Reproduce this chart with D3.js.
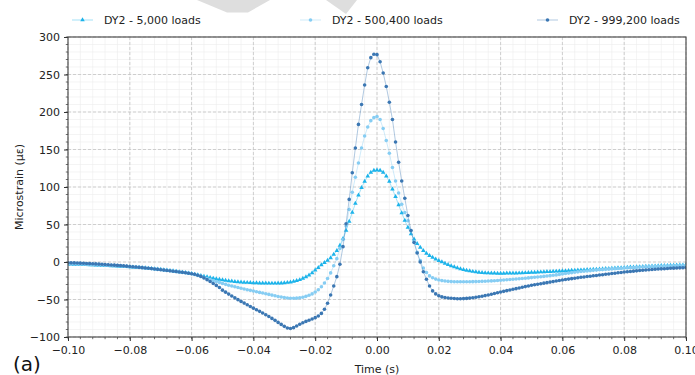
<!DOCTYPE html>
<html>
<head>
<meta charset="utf-8">
<script src="https://cdn.jsdelivr.net/npm/d3@7"></script>
<style>
  html, body { margin: 0; padding: 0; background: #fff; }
  svg { display: block; font-family: "DejaVu Sans", sans-serif; }
</style>
</head>
<body>
<svg id="chart" width="695" height="375"></svg>
<script>
// Strain gauge DY2 response to a passing load, sampled every 1 ms from -100 ms to +100 ms.
const sampleStartMs = -100;
const sampleStepMs = 1;

const seriesLabels = ["DY2 - 5,000 loads", "DY2 - 500,400 loads", "DY2 - 999,200 loads"];
const seriesColors = ["#1cb3ea", "#86cdf3", "#3b77b3"];

const strain5000 = [
  -3.0,-3.0,-3.1,-3.2,-3.3,-3.5,-3.6,-3.8,-3.9,-4.1,
  -4.3,-4.5,-4.7,-4.9,-5.1,-5.3,-5.5,-5.8,-6.0,-6.2,
  -6.5,-6.8,-7.1,-7.4,-7.7,-8.0,-8.4,-8.8,-9.2,-9.6,
  -10.0,-10.5,-11.0,-11.5,-12.0,-12.5,-13.1,-13.7,-14.3,-14.9,
  -15.5,-16.4,-17.3,-18.2,-19.1,-20.0,-20.9,-21.7,-22.5,-23.3,
  -24.0,-24.6,-25.1,-25.6,-26.1,-26.5,-26.8,-27.1,-27.4,-27.6,
  -27.8,-28.0,-28.1,-28.2,-28.3,-28.4,-28.4,-28.4,-28.3,-28.1,
  -27.8,-27.4,-26.8,-26.0,-25.0,-23.7,-22.0,-20.0,-17.5,-14.5,
  -11.0,-7.5,-4.0,-1.0,2.0,5.5,10.0,15.0,22.0,31.0,
  42.0,54.0,66.0,78.0,89.0,99.0,107.5,114.5,119.5,122.0,
  122.5,
  122.0,119.5,114.5,107.5,97.0,87.0,76.0,65.5,55.5,46.0,
  37.5,30.5,24.5,19.5,15.0,11.5,8.5,6.0,3.8,1.8,
  0.0,-1.8,-3.5,-5.1,-6.6,-8.0,-9.2,-10.3,-11.2,-12.0,
  -12.7,-13.3,-13.8,-14.2,-14.5,-14.7,-14.9,-15.0,-15.1,-15.1,
  -15.1,-15.0,-15.0,-14.9,-14.8,-14.7,-14.5,-14.4,-14.2,-14.0,
  -13.8,-13.6,-13.4,-13.2,-13.0,-12.8,-12.6,-12.4,-12.2,-12.0,
  -11.8,-11.5,-11.3,-11.1,-10.9,-10.7,-10.5,-10.3,-10.1,-9.9,
  -9.7,-9.5,-9.3,-9.0,-8.8,-8.5,-8.3,-8.0,-7.8,-7.5,
  -7.3,-7.0,-6.8,-6.6,-6.4,-6.2,-6.0,-5.8,-5.6,-5.4,
  -5.2,-5.0,-4.9,-4.7,-4.6,-4.4,-4.3,-4.2,-4.1,-4.0
];

const strain500400 = [
  -2.5,-2.6,-2.7,-2.8,-2.9,-3.0,-3.2,-3.3,-3.5,-3.7,
  -3.9,-4.1,-4.3,-4.5,-4.7,-4.9,-5.2,-5.4,-5.7,-6.0,
  -6.3,-6.6,-6.9,-7.2,-7.5,-7.9,-8.3,-8.7,-9.1,-9.5,
  -9.9,-10.4,-10.9,-11.4,-11.9,-12.4,-13.0,-13.6,-14.2,-14.8,
  -15.6,-16.7,-17.9,-19.2,-20.6,-22.0,-23.4,-24.8,-26.1,-27.4,
  -28.6,-29.8,-30.9,-32.0,-33.0,-34.0,-35.0,-36.0,-36.9,-37.8,
  -38.7,-39.6,-40.5,-41.4,-42.3,-43.2,-44.1,-45.0,-45.9,-46.7,
  -47.4,-48.0,-48.3,-48.4,-48.2,-47.8,-47.0,-45.8,-44.3,-42.5,
  -40.0,-37.0,-33.0,-28.0,-22.0,-14.5,-5.0,4.5,18.0,30.0,
  48.0,70.0,93.0,113.0,132.0,152.0,168.0,180.0,188.5,192.5,
  194.0,
  190.0,178.0,162.0,145.0,126.0,108.0,92.0,77.0,66.0,55.0,
  42.0,27.0,13.0,2.0,-8.0,-14.0,-18.5,-21.0,-22.8,-24.0,
  -24.8,-25.4,-25.8,-26.1,-26.3,-26.4,-26.4,-26.4,-26.4,-26.3,
  -26.2,-26.1,-26.0,-25.8,-25.6,-25.4,-25.2,-24.9,-24.6,-24.3,
  -24.0,-23.7,-23.3,-23.0,-22.7,-22.3,-22.0,-21.6,-21.2,-20.8,
  -20.4,-20.0,-19.6,-19.2,-18.7,-18.2,-17.7,-17.2,-16.6,-16.0,
  -15.4,-14.8,-14.2,-13.6,-13.1,-12.7,-12.3,-11.9,-11.5,-11.1,
  -10.8,-10.4,-10.1,-9.8,-9.5,-9.2,-8.9,-8.6,-8.3,-8.0,
  -7.8,-7.6,-7.3,-7.1,-6.9,-6.7,-6.5,-6.3,-6.1,-5.9,
  -5.8,-5.6,-5.5,-5.4,-5.3,-5.2,-5.1,-5.0,-5.0,-4.9
];

const strain999200 = [
  -1.0,-1.1,-1.2,-1.4,-1.5,-1.7,-1.9,-2.1,-2.3,-2.5,
  -2.8,-3.0,-3.3,-3.6,-3.9,-4.2,-4.5,-4.8,-5.1,-5.5,
  -5.9,-6.3,-6.7,-7.1,-7.5,-7.9,-8.4,-8.8,-9.3,-9.8,
  -10.3,-10.8,-11.3,-11.8,-12.3,-12.8,-13.3,-13.8,-14.4,-15.0,
  -15.6,-16.4,-17.6,-19.2,-21.2,-23.5,-26.0,-28.6,-31.2,-33.9,
  -37.5,-40.2,-42.8,-45.3,-47.8,-50.2,-52.5,-54.8,-57.0,-59.3,
  -61.5,-63.6,-65.8,-68.0,-70.3,-72.7,-75.2,-77.8,-80.5,-83.2,
  -85.8,-88.0,-88.6,-87.5,-85.4,-83.0,-81.0,-79.2,-77.6,-76.0,
  -74.2,-72.0,-68.5,-63.0,-55.0,-44.0,-32.0,-19.5,-3.0,20.5,
  51.0,83.5,119.0,152.0,183.5,210.0,236.0,259.0,272.5,277.0,
  276.5,
  267.0,252.0,234.0,213.0,190.0,160.0,133.0,108.0,85.0,62.0,
  42.0,26.0,12.0,0.0,-13.0,-23.0,-32.0,-38.5,-42.5,-45.0,
  -46.5,-47.4,-48.0,-48.4,-48.7,-48.9,-48.9,-48.8,-48.5,-48.1,
  -47.6,-47.0,-46.3,-45.6,-44.8,-43.9,-43.0,-42.0,-41.0,-40.0,
  -39.1,-38.2,-37.3,-36.4,-35.5,-34.6,-33.7,-32.8,-31.9,-31.0,
  -30.3,-29.6,-28.9,-28.2,-27.5,-26.8,-26.1,-25.4,-24.7,-24.0,
  -23.4,-22.8,-22.2,-21.6,-21.0,-20.4,-19.9,-19.4,-18.9,-18.4,
  -17.9,-17.4,-16.9,-16.4,-15.9,-15.4,-14.9,-14.4,-13.9,-13.4,
  -13.0,-12.6,-12.2,-11.8,-11.4,-11.0,-10.6,-10.3,-10.0,-9.7,
  -9.4,-9.1,-8.9,-8.6,-8.4,-8.2,-8.0,-7.8,-7.6,-7.4
];

const xTickValues = [-0.10, -0.08, -0.06, -0.04, -0.02, 0.00, 0.02, 0.04, 0.06, 0.08, 0.10];
const yTickValues = [-100, -50, 0, 50, 100, 150, 200, 250, 300];
const xMinorStep = 0.004;
const yMinorStep = 10;

const svg = d3.select("#chart");
const W = 695, H = 375;
const margin = { left: 68, right: 9, top: 37, bottom: 38 };
const plotW = W - margin.left - margin.right;
const plotH = H - margin.top - margin.bottom;

const x = d3.scaleLinear().domain([-0.10, 0.10]).range([0, plotW]);
const y = d3.scaleLinear().domain([-100, 300]).range([plotH, 0]);

// light grey banner shapes along the top edge
svg.append("polygon").attr("points", "197,0 270,0 248,12.5 227,12.5").attr("fill", "#dedede");
svg.append("polygon").attr("points", "326,0 357,0 346,14").attr("fill", "#dedede");

const g = svg.append("g").attr("transform", `translate(${margin.left},${margin.top})`);

svg.append("defs").append("clipPath").attr("id", "plotClip")
  .append("rect").attr("width", plotW).attr("height", plotH);

// minor grid
const xMinor = d3.range(-0.10, 0.1001, xMinorStep);
const yMinor = d3.range(-100, 300.1, yMinorStep);
const grid = g.append("g");
grid.selectAll("line.xm").data(xMinor).join("line")
  .attr("x1", d => x(d)).attr("x2", d => x(d)).attr("y1", 0).attr("y2", plotH)
  .attr("stroke", "#ececec").attr("stroke-width", 0.6);
grid.selectAll("line.ym").data(yMinor).join("line")
  .attr("y1", d => y(d)).attr("y2", d => y(d)).attr("x1", 0).attr("x2", plotW)
  .attr("stroke", "#ececec").attr("stroke-width", 0.6);
// major grid
grid.selectAll("line.xM").data(xTickValues).join("line")
  .attr("x1", d => x(d)).attr("x2", d => x(d)).attr("y1", 0).attr("y2", plotH)
  .attr("stroke", "#c4c4c4").attr("stroke-width", 0.8).attr("stroke-dasharray", "3,2");
grid.selectAll("line.yM").data(yTickValues).join("line")
  .attr("y1", d => y(d)).attr("y2", d => y(d)).attr("x1", 0).attr("x2", plotW)
  .attr("stroke", "#c4c4c4").attr("stroke-width", 0.8).attr("stroke-dasharray", "3,2");

// series
const seriesValues = [strain5000, strain500400, strain999200];
const series = seriesValues.map((vals, i) => ({
  label: seriesLabels[i],
  color: seriesColors[i],
  marker: i === 0 ? "triangle" : "circle",
  points: vals.map((v, k) => ({ t: (sampleStartMs + k * sampleStepMs) / 1000, v }))
}));

const line = d3.line().x(d => x(d.t)).y(d => y(d.v));
const triangle = d3.symbol(d3.symbolTriangle, 9);

const plot = g.append("g").attr("clip-path", "url(#plotClip)");
series.forEach(s => {
  const sg = plot.append("g");
  sg.append("path").datum(s.points).attr("d", line)
    .attr("fill", "none").attr("stroke", s.color).attr("stroke-width", 0.8).attr("stroke-opacity", 0.5);
  if (s.marker === "triangle") {
    sg.selectAll("path.m").data(s.points).join("path").attr("class", "m")
      .attr("d", triangle).attr("transform", d => `translate(${x(d.t)},${y(d.v)})`)
      .attr("fill", s.color);
  } else {
    sg.selectAll("circle").data(s.points).join("circle")
      .attr("cx", d => x(d.t)).attr("cy", d => y(d.v)).attr("r", 1.8)
      .attr("fill", s.color);
  }
});

// axes
const fmtX = d3.format(".2f");
const xAxis = g.append("g").attr("transform", `translate(0,${plotH})`)
  .call(d3.axisBottom(x).tickValues(xTickValues).tickFormat(fmtX).tickSize(4).tickPadding(5));
const yAxis = g.append("g")
  .call(d3.axisLeft(y).tickValues(yTickValues).tickFormat(d3.format("d")).tickSize(4).tickPadding(4));
[xAxis, yAxis].forEach(a => {
  a.select(".domain").remove();
  a.selectAll("text").attr("font-size", 11).attr("fill", "#222").attr("font-family", "DejaVu Sans");
  a.selectAll("line").attr("stroke", "#333");
});
// minor ticks
g.append("g").selectAll("line").data(xMinor).join("line")
  .attr("x1", d => x(d)).attr("x2", d => x(d)).attr("y1", plotH).attr("y2", plotH + 2.2)
  .attr("stroke", "#333").attr("stroke-width", 0.7);
g.append("g").selectAll("line").data(yMinor).join("line")
  .attr("y1", d => y(d)).attr("y2", d => y(d)).attr("x1", 0).attr("x2", -2.2)
  .attr("stroke", "#333").attr("stroke-width", 0.7);

// frame
g.append("rect").attr("width", plotW).attr("height", plotH)
  .attr("fill", "none").attr("stroke", "#444").attr("stroke-width", 1.1);

// axis titles
svg.append("text").attr("x", margin.left + plotW / 2).attr("y", 373)
  .attr("text-anchor", "middle").attr("font-size", 11).attr("fill", "#222").text("Time (s)");
svg.append("text").attr("transform", `translate(23,${margin.top + plotH / 2}) rotate(-90)`)
  .attr("text-anchor", "middle").attr("font-size", 11).attr("fill", "#222").text("Microstrain (με)");
svg.append("text").attr("x", 13).attr("y", 371)
  .attr("font-size", 20).attr("fill", "#111").text("(a)");

// legend
const legendX = [72, 300, 537];
const legendY = 20;
series.forEach((s, i) => {
  const lg = svg.append("g").attr("transform", `translate(${legendX[i]},${legendY})`);
  lg.append("line").attr("x1", 0).attr("x2", 21).attr("y1", 0).attr("y2", 0)
    .attr("stroke", s.color).attr("stroke-width", 0.8).attr("stroke-opacity", 0.5);
  if (s.marker === "triangle") {
    lg.append("path").attr("d", triangle).attr("transform", "translate(10.5,0)").attr("fill", s.color);
  } else {
    lg.append("circle").attr("cx", 10.5).attr("cy", 0).attr("r", 1.8).attr("fill", s.color);
  }
  lg.append("text").attr("x", 32).attr("y", 0).attr("dy", "0.35em")
    .attr("font-size", 11).attr("fill", "#222").text(s.label);
});
</script>
</body>
</html>
